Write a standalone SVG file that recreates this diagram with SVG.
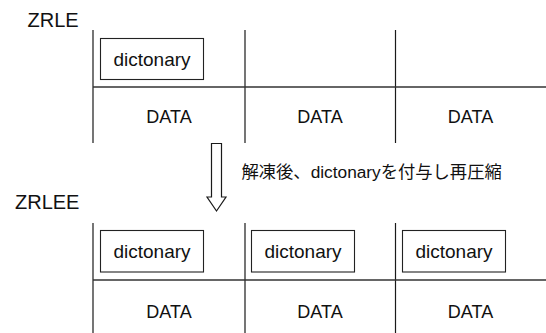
<svg xmlns="http://www.w3.org/2000/svg" width="546" height="333" viewBox="0 0 546 333">
<style>
.ln{stroke:#1a1a1a;stroke-width:1.2;fill:none}
.hl{stroke:#333;stroke-width:1.5;fill:none}
.box{stroke:#222;stroke-width:1.1;fill:#fff}
.t{font-family:"Liberation Sans","Noto Sans CJK JP",sans-serif;fill:#111}
.title{font-size:20px}
.dict{font-size:19px;text-anchor:middle}
.data{font-size:18px;text-anchor:middle}
.lbl{font-size:17.3px}
</style>
<rect width="546" height="333" fill="#fff"/>
<g id="zrle">
  <text class="t title" x="27.5" y="27">ZRLE</text>
  <g id="zrle-grid">
    <line class="ln" x1="93" y1="30" x2="93" y2="143"/>
    <line class="ln" x1="245" y1="30" x2="245" y2="143"/>
    <line class="ln" x1="395.5" y1="30" x2="395.5" y2="143"/>
    <line class="hl" x1="93" y1="87" x2="546" y2="87"/>
  </g>
  <g id="zrle-dict1">
    <rect class="box" x="100.5" y="38.5" width="103" height="41"/>
    <text class="t dict" x="152" y="65.5">dictonary</text>
  </g>
  <g id="zrle-data1"><text class="t data" x="169" y="123">DATA</text></g>
  <g id="zrle-data2"><text class="t data" x="320" y="123">DATA</text></g>
  <g id="zrle-data3"><text class="t data" x="470.5" y="123">DATA</text></g>
</g>
<g id="connectors">
  <path id="arrow" class="ln" d="M211.5,143.5 H221.5 V197 H226 L216.5,211 L207,197 H211.5 Z"/>
  <text id="arrow-label" class="t lbl" x="241.5" y="178">解凍後、dictonaryを付与し再圧縮</text>
</g>
<g id="zrlee">
  <text class="t title" x="15" y="208.5">ZRLEE</text>
  <g id="zrlee-grid">
    <line class="ln" x1="93" y1="223" x2="93" y2="333"/>
    <line class="ln" x1="245" y1="223" x2="245" y2="333"/>
    <line class="ln" x1="395.5" y1="223" x2="395.5" y2="333"/>
    <line class="hl" x1="93" y1="280" x2="546" y2="280"/>
  </g>
  <g id="zrlee-dict1">
    <rect class="box" x="100.5" y="230.5" width="103" height="41.5"/>
    <text class="t dict" x="152" y="257.5">dictonary</text>
  </g>
  <g id="zrlee-dict2">
    <rect class="box" x="251.5" y="230.5" width="103" height="41.5"/>
    <text class="t dict" x="303" y="257.5">dictonary</text>
  </g>
  <g id="zrlee-dict3">
    <rect class="box" x="402.5" y="230.5" width="103" height="41.5"/>
    <text class="t dict" x="454" y="257.5">dictonary</text>
  </g>
  <g id="zrlee-data1"><text class="t data" x="169" y="318">DATA</text></g>
  <g id="zrlee-data2"><text class="t data" x="320" y="318">DATA</text></g>
  <g id="zrlee-data3"><text class="t data" x="470.5" y="318">DATA</text></g>
</g>
</svg>
